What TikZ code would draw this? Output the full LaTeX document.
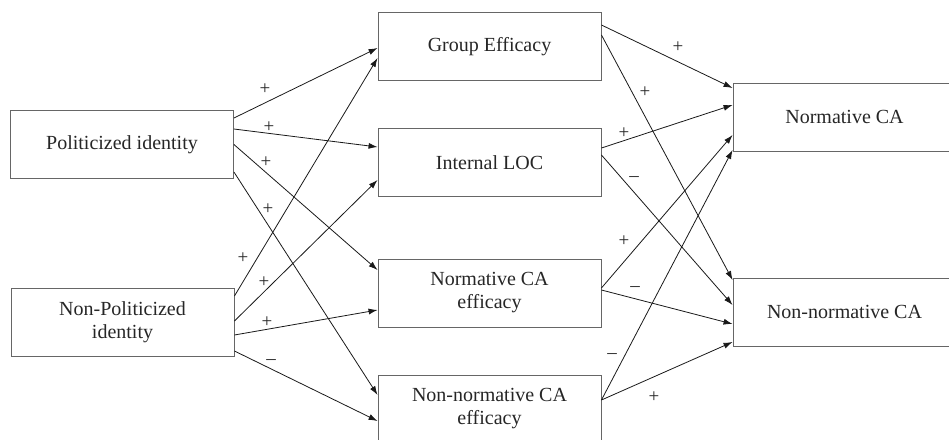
\documentclass[tikz,border=0pt]{standalone}
\usepackage{fontspec}
\setmainfont{Liberation Serif}
\usepackage{tikz}
\usetikzlibrary{arrows.meta}

\begin{document}
\begin{tikzpicture}[x=1pt,y=-1pt,auto,swap,
    varbox/.style={draw=box_gray,line width=0.9pt,minimum width=223pt,minimum height=68pt,
      align=center,inner sep=0,text=black!85,font=\fontsize{20}{23}\selectfont},
    sign/.style={inner sep=0,text=black!85,font=\fontsize{19}{20}\selectfont},
    path_arrow/.style={draw=black!90,line width=0.8pt,-{Latex[length=9pt,width=6pt]}}]
    \definecolor{box_gray}{rgb}{0.4, 0.4, 0.4}
    \clip (0,0) rectangle (949,439);

    \node[varbox] (pol) at (122,144.5) {Politicized identity};
    \node[varbox] (npol) at (122.5,322) {Non-Politicized\\identity};

    \node[varbox] (ge) at (489.5,46.5) {Group Efficacy};
    \node[varbox] (iloc) at (489.5,162.5) {Internal LOC};
    \node[varbox] (ncae) at (489.5,293) {Normative CA\\efficacy};
    \node[varbox] (nncae) at (489.5,409) {Non-normative CA\\efficacy};

    \node[varbox] (nca) at (844.5,117) {Normative CA};
    \node[varbox] (nnca) at (844.5,312) {Non-normative CA};

    % identities -> mediators
    \draw[path_arrow] ([yshift=26.5pt]pol.east) -- ([yshift=-1.5pt]ge.west);
    \draw[path_arrow] ([yshift=15.5pt]pol.east) -- ([yshift=15.5pt]iloc.west);
    \draw[path_arrow] (pol.east) -- ([yshift=23pt]ncae.west);
    \draw[path_arrow] ([yshift=-27.5pt]pol.east) -- ([yshift=14pt]nncae.west);

    \draw[path_arrow] ([yshift=26pt]npol.east) -- ([yshift=-11.5pt]ge.west);
    \draw[path_arrow] ([yshift=1pt]npol.east) -- ([yshift=-17.5pt]iloc.west);
    \draw[path_arrow] ([yshift=-13pt]npol.east) -- ([yshift=-17pt]ncae.west);
    \draw[path_arrow] ([yshift=-29pt]npol.east) -- ([yshift=-12pt]nncae.west);

    % mediators -> collective action
    \draw[path_arrow] ([yshift=21.5pt]ge.east) -- ([yshift=29pt]nca.west);
    \draw[path_arrow] ([yshift=11.5pt]ge.east) -- ([yshift=32pt]nnca.west);
    \draw[path_arrow] ([yshift=14.5pt]iloc.east) -- ([yshift=12pt]nca.west);
    \draw[path_arrow] ([yshift=7.5pt]iloc.east) -- ([yshift=7pt]nnca.west);
    \draw[path_arrow] ([yshift=5pt]ncae.east) -- ([yshift=-18pt]nca.west);
    \draw[path_arrow] ([yshift=3pt]ncae.east) -- ([yshift=-12pt]nnca.west);
    \draw[path_arrow] ([yshift=9pt]nncae.east) -- ([yshift=-33pt]nca.west);
    \draw[path_arrow] ([yshift=9pt]nncae.east) -- ([yshift=-30pt]nnca.west);

    % signs
    \node[sign] (s_pol_ge) at (265,89) {+};
    \node[sign] (s_pol_iloc) at (269,127) {+};
    \node[sign] (s_pol_ncae) at (266,162) {+};
    \node[sign] (s_pol_nncae) at (268,209) {+};
    \node[sign] (s_npol_ge) at (243,258) {+};
    \node[sign] (s_npol_iloc) at (264,282) {+};
    \node[sign] (s_npol_ncae) at (267,322) {+};
    \node[sign] (s_npol_nncae) at (271,362) {–};
    \node[sign] (s_ge_nca) at (678,47) {+};
    \node[sign] (s_ge_nnca) at (645,92) {+};
    \node[sign] (s_iloc_nca) at (624,133) {+};
    \node[sign] (s_iloc_nnca) at (634,179) {–};
    \node[sign] (s_ncae_nca) at (624,241) {+};
    \node[sign] (s_ncae_nnca) at (635,289) {–};
    \node[sign] (s_nncae_nca) at (612,356) {–};
    \node[sign] (s_nncae_nnca) at (654,397) {+};

  \end{tikzpicture}
\end{document}
